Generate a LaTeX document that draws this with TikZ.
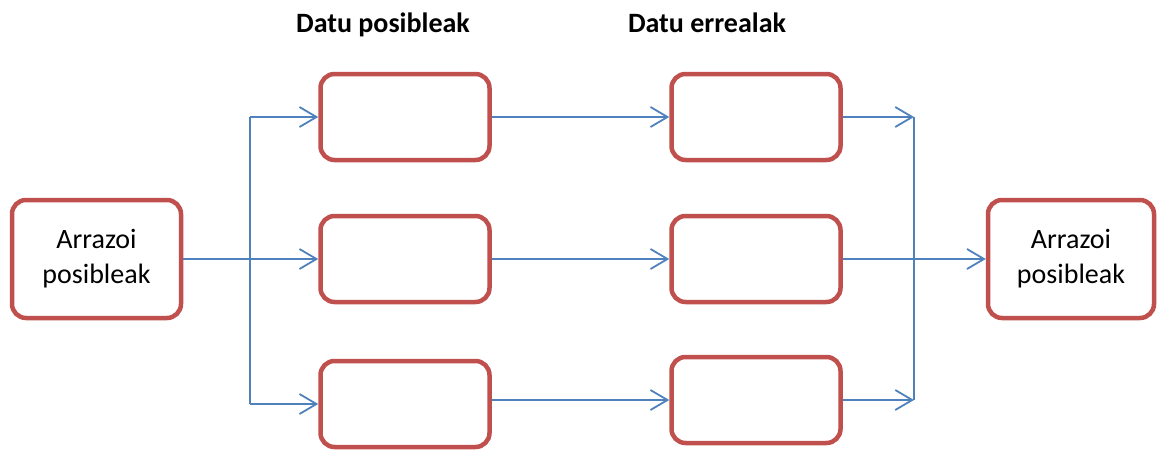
\documentclass[tikz,border=0pt]{standalone}
\usepackage{fontspec}
\setmainfont{Carlito}
\usetikzlibrary{arrows.meta}
\definecolor{boxred}{HTML}{C0504D}
\definecolor{lineblue}{HTML}{4F81BD}
\tikzset{
  rbox/.style={draw=boxred, line width=4.5pt, rounded corners=14pt, fill=white,
    minimum width=169pt, minimum height=86pt, inner sep=0pt, align=center,
    font=\fontsize{28}{35}\selectfont},
  bigbox/.style={rbox, minimum height=118pt},
  conn/.style={draw=lineblue, line width=1.8pt},
  arr/.style={conn, -{Straight Barb[length=17pt,width=20pt]}},
  title/.style={font=\fontsize{28}{34}\selectfont\bfseries, anchor=base, inner sep=0pt}
}
\begin{document}
\begin{tikzpicture}[x=1pt,y=-1pt]
\path[use as bounding box] (0,0) rectangle (1158,453);
\node[title] (t1) at (383,32) {Datu posibleak};
\node[title] (t2) at (707,32) {Datu errealak};
\node[bigbox] (L) at (96.5,259) {Arrazoi\\posibleak};
\node[rbox] (a1) at (405,117) {};
\node[rbox] (a2) at (405,259) {};
\node[rbox] (a3) at (405,404) {};
\node[rbox] (b1) at (756,117) {};
\node[rbox] (b2) at (756,259) {};
\node[rbox] (b3) at (756,400) {};
\node[bigbox, minimum width=166pt] (R) at (1071,259) {Arrazoi\\posibleak};
\coordinate (jl1) at (250,117);
\coordinate (jl3) at (250,404);
\coordinate (jr1) at (914,117);
\coordinate (jr3) at (914,400);
% left fan-out
\draw[conn] (jl1) -- (jl3);
\draw[arr] (L.east) -- (L.east -| a2.west);
\draw[arr] (jl1) -- (a1.west);
\draw[arr] (jl3) -- (a3.west);
% middle
\draw[arr] (a1.east) -- (b1.west);
\draw[arr] (a2.east) -- (b2.west);
\draw[arr] (b3.west -| a3.east) -- (b3.west);
% right fan-in
\draw[conn] (jr1) -- (jr3);
\draw[arr] (b1.east) -- (jr1);
\draw[arr] (b3.east) -- (jr3);
\draw[arr] (b2.east) -- (R.west);
\end{tikzpicture}
\end{document}
